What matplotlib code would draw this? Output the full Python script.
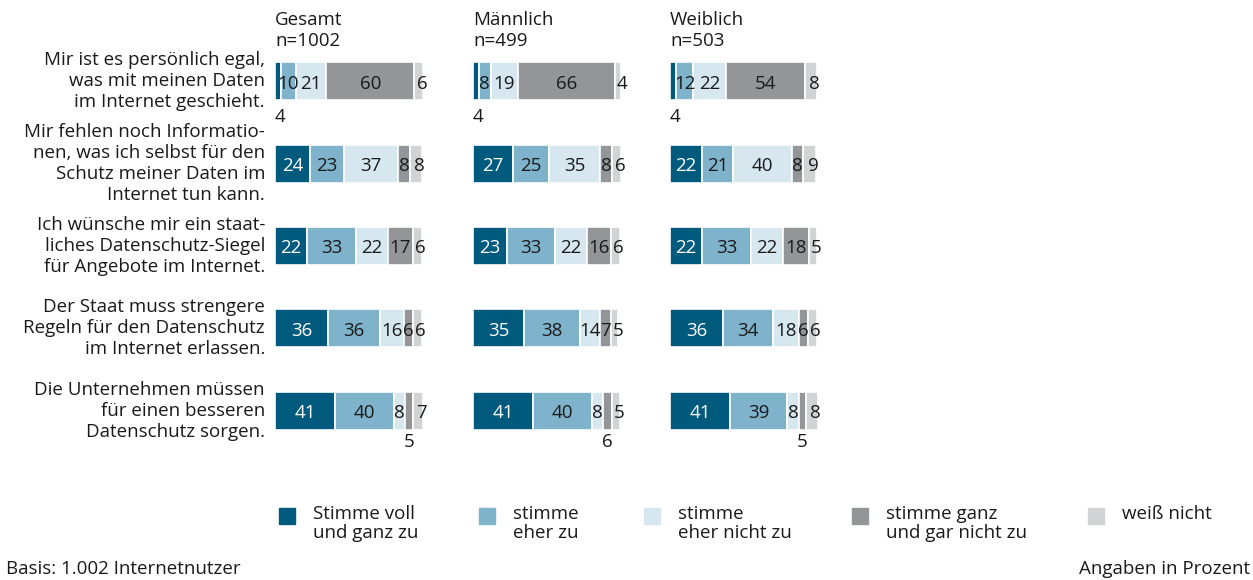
import matplotlib.pyplot as plt
import numpy as np

plt.rcParams['font.family'] = ['Open Sans', 'DejaVu Sans']

statements = [
    "Mir ist es persönlich egal,\nwas mit meinen Daten\nim Internet geschieht.",
    "Mir fehlen noch Informatio-\nnen, was ich selbst für den\nSchutz meiner Daten im\nInternet tun kann.",
    "Ich wünsche mir ein staat-\nliches Datenschutz-Siegel\nfür Angebote im Internet.",
    "Der Staat muss strengere\nRegeln für den Datenschutz\nim Internet erlassen.",
    "Die Unternehmen müssen\nfür einen besseren\nDatenschutz sorgen.",
]
groups = ["Gesamt\nn=1002", "Männlich\nn=499", "Weiblich\nn=503"]
answers = ["Stimme voll\nund ganz zu", "stimme\neher zu", "stimme\neher nicht zu",
           "stimme ganz\nund gar nicht zu", "weiß nicht"]

gesamt = [[4, 10, 21, 60, 6],
          [24, 23, 37, 8, 8],
          [22, 33, 22, 17, 6],
          [36, 36, 16, 6, 6],
          [41, 40, 8, 5, 7]]
maennlich = [[4, 8, 19, 66, 4],
             [27, 25, 35, 8, 6],
             [23, 33, 22, 16, 6],
             [35, 38, 14, 7, 5],
             [41, 40, 8, 6, 5]]
weiblich = [[4, 12, 22, 54, 8],
            [22, 21, 40, 8, 9],
            [22, 33, 22, 18, 5],
            [36, 34, 18, 6, 6],
            [41, 39, 8, 5, 8]]

colors = ['#005a7e', '#7fb2cb', '#d6e7f0', '#939598', '#d2d3d5']
txt = '#1a1a1a'
fs = 13.5

W, H = 1253, 580
fig = plt.figure(figsize=(W / 100, H / 100), dpi=100)

# labels that sit below the bar instead of inside it: (row, segment)
below = {(0, 0), (4, 3)}

panel_left = [275, 473, 670]
px_per_pct = 1.465
ax_w = 110 * px_per_pct
ax_top, ax_h = 40, 412
for p, data in enumerate([gesamt, maennlich, weiblich]):
    ax = fig.add_axes([panel_left[p] / W, (H - ax_top - ax_h) / H, ax_w / W, ax_h / H])
    data = np.array(data)
    y = np.arange(len(statements))
    left = np.zeros(len(statements))
    nseg = data.shape[1]
    for k in range(nseg):
        ax.barh(y, data[:, k], left=left, height=0.46, color=colors[k],
                edgecolor='white', linewidth=1.2)
        for i in range(len(statements)):
            v = data[i, k]
            cx = left[i] + v / 2
            c = 'white' if k == 0 else txt
            if (i, k) in below:
                dy = 0.44 if k == 0 else 0.38
                ax.text(cx + (1.5 if k == 0 else 0), i + dy, str(v),
                        ha='center', va='center', fontsize=fs, color=txt)
            else:
                if k == nseg - 1:
                    cx += 2.5
                ax.text(cx, i + 0.03, str(v), ha='center', va='center',
                        fontsize=fs, color=c)
        left += data[:, k]
    ax.set_xlim(0, 110)
    ax.set_ylim(len(statements) - 0.5, -0.5)
    ax.axis('off')
    fig.text(panel_left[p] / W, 1 - 11 / H, groups[p], ha='left', va='top',
             fontsize=fs, color=txt, linespacing=1.2)

row_pitch = ax_h / len(statements)
for i, s in enumerate(statements):
    yc = ax_top + row_pitch * (i + 0.5)
    fig.text(265 / W, 1 - yc / H, s, ha='right', va='center', fontsize=fs,
             color=txt, linespacing=1.22)

# legend
sq_x = [279, 479, 644, 852, 1088]
for k, lab in enumerate(answers):
    fig.patches.append(plt.Rectangle((sq_x[k] / W, (H - 524) / H), 16 / W, 16 / H,
                                     transform=fig.transFigure, color=colors[k]))
    fig.text((sq_x[k] + 34) / W, 1 - 505 / H, lab, ha='left', va='top',
             fontsize=fs, color=txt, linespacing=1.1)

fig.text(6 / W, 1 - 569 / H, "Basis: 1.002 Internetnutzer", ha='left', va='center',
         fontsize=fs, color=txt)
fig.text(1250 / W, 1 - 569 / H, "Angaben in Prozent", ha='right', va='center',
         fontsize=fs, color=txt)

fig.savefig('out.png', dpi=100)
